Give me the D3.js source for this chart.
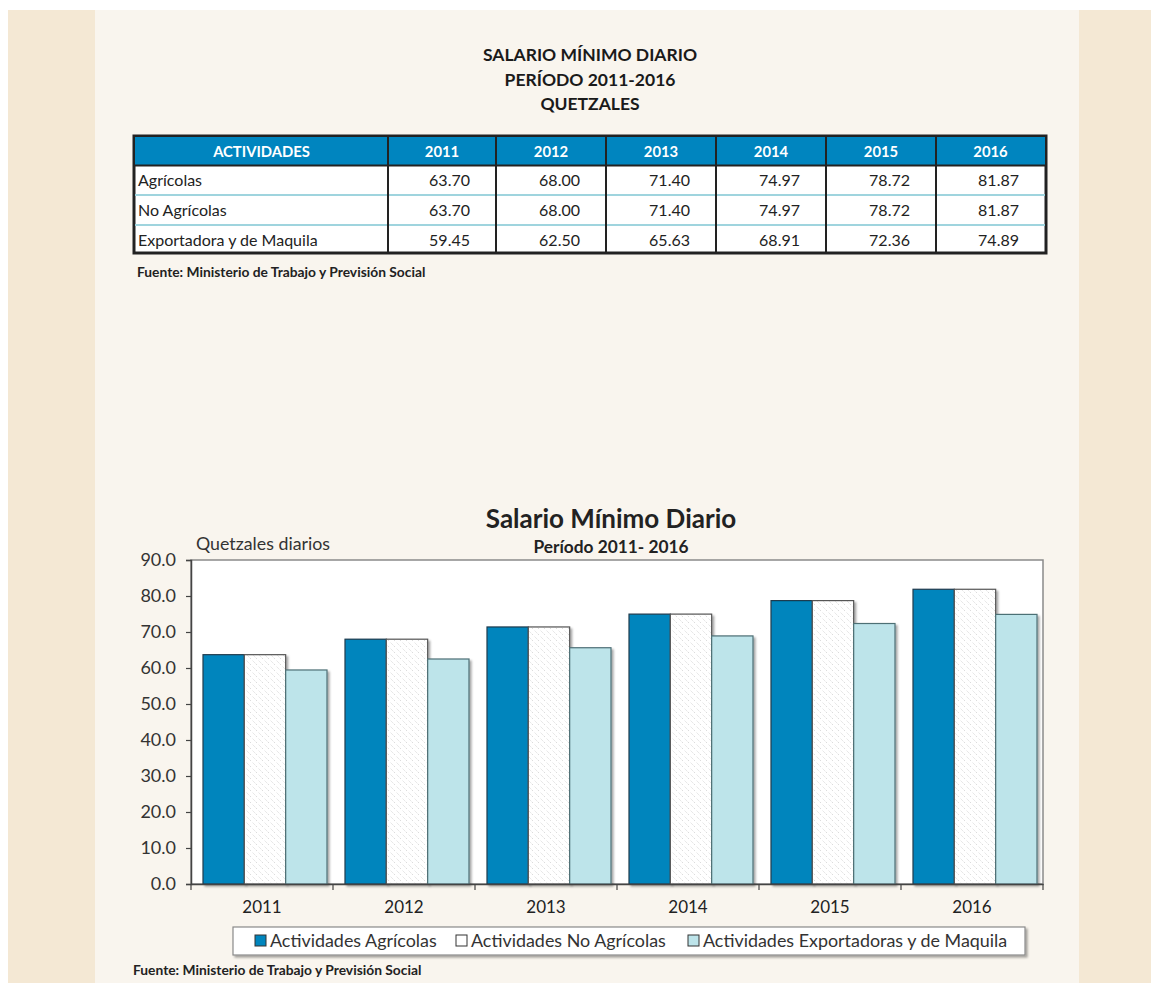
<!DOCTYPE html>
<html><head><meta charset="utf-8">
<script src="https://cdn.jsdelivr.net/npm/d3@7"></script>
<style>
html,body{margin:0;padding:0;background:#fff;}
svg{display:block;}
</style></head>
<body>
<script>
const years = ["2011","2012","2013","2014","2015","2016"];
const rowLabels = ["Agrícolas","No Agrícolas","Exportadora y de Maquila"];
const agricolas = [63.70, 68.00, 71.40, 74.97, 78.72, 81.87];
const noAgricolas = [63.70, 68.00, 71.40, 74.97, 78.72, 81.87];
const exportadora = [59.45, 62.50, 65.63, 68.91, 72.36, 74.89];
const seriesNames = ["Actividades Agrícolas","Actividades No Agrícolas","Actividades Exportadoras y de Maquila"];
const yTicks = [0,10,20,30,40,50,60,70,80,90];

const W = 1151, H = 983;
const FONT = "Lato, 'Open Sans', sans-serif";
const svg = d3.select("body").append("svg").attr("width", W).attr("height", H)
  .style("font-family", FONT);

// page backgrounds
svg.append("rect").attr("x",0).attr("y",0).attr("width",W).attr("height",H).attr("fill","#fff");
svg.append("rect").attr("x",8).attr("y",10).attr("width",W-8).attr("height",H-10).attr("fill","#f4e8d4");
svg.append("rect").attr("x",95).attr("y",10).attr("width",984).attr("height",H-10).attr("fill","#f9f5ee");

const defs = svg.append("defs");
const pat = defs.append("pattern").attr("id","hatch").attr("patternUnits","userSpaceOnUse")
  .attr("width",6).attr("height",6);
pat.append("rect").attr("width",6).attr("height",6).attr("fill","#fff");
pat.append("path").attr("d","M-1,-1 L7,7 M-4,2 L2,8 M4,-2 L8,2").attr("stroke","#b8b8b8")
  .attr("stroke-width",0.7).attr("stroke-dasharray","1,1.5");
const sh = defs.append("filter").attr("id","shadow").attr("x","-10%").attr("y","-10%").attr("width","130%").attr("height","130%");
sh.append("feDropShadow").attr("dx",2).attr("dy",2).attr("stdDeviation",1.2).attr("flood-color","#000").attr("flood-opacity",0.35);

// ---- Top title ----
const tt = svg.append("text").attr("x",590).attr("text-anchor","middle")
  .attr("font-weight","bold").attr("font-size",17.5).attr("fill","#1a1a1a");
["SALARIO MÍNIMO DIARIO","PERÍODO 2011-2016","QUETZALES"].forEach((t,i)=>{
  tt.append("tspan").attr("x",590).attr("y",61+i*24.5).text(t);
});

// ---- Table ----
const colEdges = [135,388,496,606,716,826,936,1045];
const tableTop = 136, headerH = 29, rowH = 30;
const tbl = svg.append("g");
tbl.append("rect").attr("x",134).attr("y",tableTop).attr("width",912).attr("height",headerH+3*rowH-2)
  .attr("fill","#fff").attr("stroke","#222").attr("stroke-width",3);
tbl.append("rect").attr("x",135).attr("y",tableTop+1).attr("width",910).attr("height",headerH-1).attr("fill","#0085bf");
tbl.append("line").attr("x1",134).attr("x2",1046).attr("y1",tableTop+headerH+0.5).attr("y2",tableTop+headerH+0.5)
  .attr("stroke","#222").attr("stroke-width",2);
[1,2].forEach(i=>{
  tbl.append("line").attr("x1",135).attr("x2",1045).attr("y1",tableTop+headerH+i*rowH).attr("y2",tableTop+headerH+i*rowH)
    .attr("stroke","#9fd4de").attr("stroke-width",2);
});
colEdges.slice(1,-1).forEach(x=>{
  tbl.append("line").attr("x1",x).attr("x2",x).attr("y1",tableTop).attr("y2",tableTop+headerH+3*rowH-2)
    .attr("stroke","#222").attr("stroke-width",2);
});
const headers = ["ACTIVIDADES"].concat(years);
headers.forEach((h,i)=>{
  tbl.append("text").attr("x",(colEdges[i]+colEdges[i+1])/2).attr("y",tableTop+21)
    .attr("text-anchor","middle").attr("fill","#fff").attr("font-weight","bold").attr("font-size",14.8).text(h);
});
const tableData = [agricolas,noAgricolas,exportadora];
tableData.forEach((vals,r)=>{
  const y = tableTop+headerH+r*rowH+21;
  tbl.append("text").attr("x",138).attr("y",y).attr("font-size",16).attr("fill","#222").text(rowLabels[r]);
  vals.forEach((v,c)=>{
    tbl.append("text").attr("x",colEdges[c+2]-26).attr("y",y).attr("text-anchor","end")
      .attr("font-size",16).attr("fill","#222").text(v.toFixed(2));
  });
});
svg.append("text").attr("x",137).attr("y",277).attr("font-size",13.8).attr("font-weight","bold")
  .attr("fill","#222").text("Fuente: Ministerio de Trabajo y Previsión Social");

// ---- Chart ----
const plot = {left:191, right:1043, top:560, bottom:884};
const x0 = d3.scaleBand().domain(years).range([plot.left, plot.right]).paddingInner(0).paddingOuter(0);
const x1 = d3.scaleBand().domain([0,1,2]).range([12, x0.bandwidth()-6]).padding(0);
const y = d3.scaleLinear().domain([0,90]).range([plot.bottom, plot.top]);

svg.append("text").attr("x",611).attr("y",528).attr("text-anchor","middle").attr("font-weight","bold")
  .attr("font-size",26).attr("fill","#222").text("Salario Mínimo Diario");
svg.append("text").attr("x",611).attr("y",553).attr("text-anchor","middle").attr("font-weight","bold")
  .attr("font-size",17.3).attr("fill","#222").text("Período 2011- 2016");
svg.append("text").attr("x",196).attr("y",550).attr("font-size",17.8).attr("fill","#333").text("Quetzales diarios");

svg.append("rect").attr("x",plot.left).attr("y",plot.top).attr("width",plot.right-plot.left)
  .attr("height",plot.bottom-plot.top).attr("fill","#fff").attr("stroke","#8a8a8a").attr("stroke-width",1.5);

const fills = ["#0085bd","url(#hatch)","#bde4ea"];
const strokes = ["#1f3b4d","#555","#4d6f75"];
const seriesData = [agricolas,noAgricolas,exportadora];
const bars = svg.append("g");
seriesData.forEach((vals,s)=>{
  bars.selectAll(null).data(vals).enter().append("rect")
    .attr("x",(d,i)=>x0(years[i])+x1(s))
    .attr("y",d=>y(d))
    .attr("width",x1.bandwidth())
    .attr("height",d=>y(0)-y(d))
    .attr("fill",fills[s]).attr("stroke",strokes[s]).attr("stroke-width",1.2)
    .attr("filter","url(#shadow)");
});

// y axis
const yAxis = d3.axisLeft(y).tickValues(yTicks).tickFormat(d3.format(".1f")).tickSize(5).tickPadding(10);
const gy = svg.append("g").attr("transform",`translate(${plot.left},0)`).call(yAxis);
gy.select(".domain").attr("stroke","#444").attr("stroke-width",1.5);
gy.selectAll(".tick line").attr("stroke","#444").attr("stroke-width",1.2);
gy.selectAll("text").attr("font-size",18).attr("fill","#333").style("font-family",FONT);

// x axis
const xAxis = d3.axisBottom(x0).tickSize(0).tickPadding(17);
const gx = svg.append("g").attr("transform",`translate(0,${plot.bottom})`).call(xAxis);
gx.select(".domain").attr("stroke","#444").attr("stroke-width",1.5);
gx.selectAll("text").attr("font-size",17).attr("fill","#222").style("font-family",FONT);
gx.selectAll(null).data(years.concat(["end"])).enter().append("line")
  .attr("x1",(d,i)=> i<years.length ? x0(d) : plot.right)
  .attr("x2",(d,i)=> i<years.length ? x0(d) : plot.right)
  .attr("y1",0).attr("y2",6).attr("stroke","#444").attr("stroke-width",1.2);

// legend
const lg = svg.append("g");
lg.append("rect").attr("x",233).attr("y",927).attr("width",792).attr("height",28)
  .attr("fill","#fff").attr("stroke","#8a8a8a").attr("stroke-width",1.2).attr("filter","url(#shadow)");
const legX = [255,456,688];
const sw = ["#0085bd","#fff","#bde4ea"];
seriesNames.forEach((n,i)=>{
  lg.append("rect").attr("x",legX[i]).attr("y",935).attr("width",11).attr("height",11)
    .attr("fill",sw[i]).attr("stroke","#333").attr("stroke-width",1);
  lg.append("text").attr("x",legX[i]+15).attr("y",947).attr("font-size",17.9).attr("fill","#333").text(n);
});
svg.append("text").attr("x",133).attr("y",975).attr("font-size",13.8).attr("font-weight","bold")
  .attr("fill","#222").text("Fuente: Ministerio de Trabajo y Previsión Social");
</script>
</body></html>
